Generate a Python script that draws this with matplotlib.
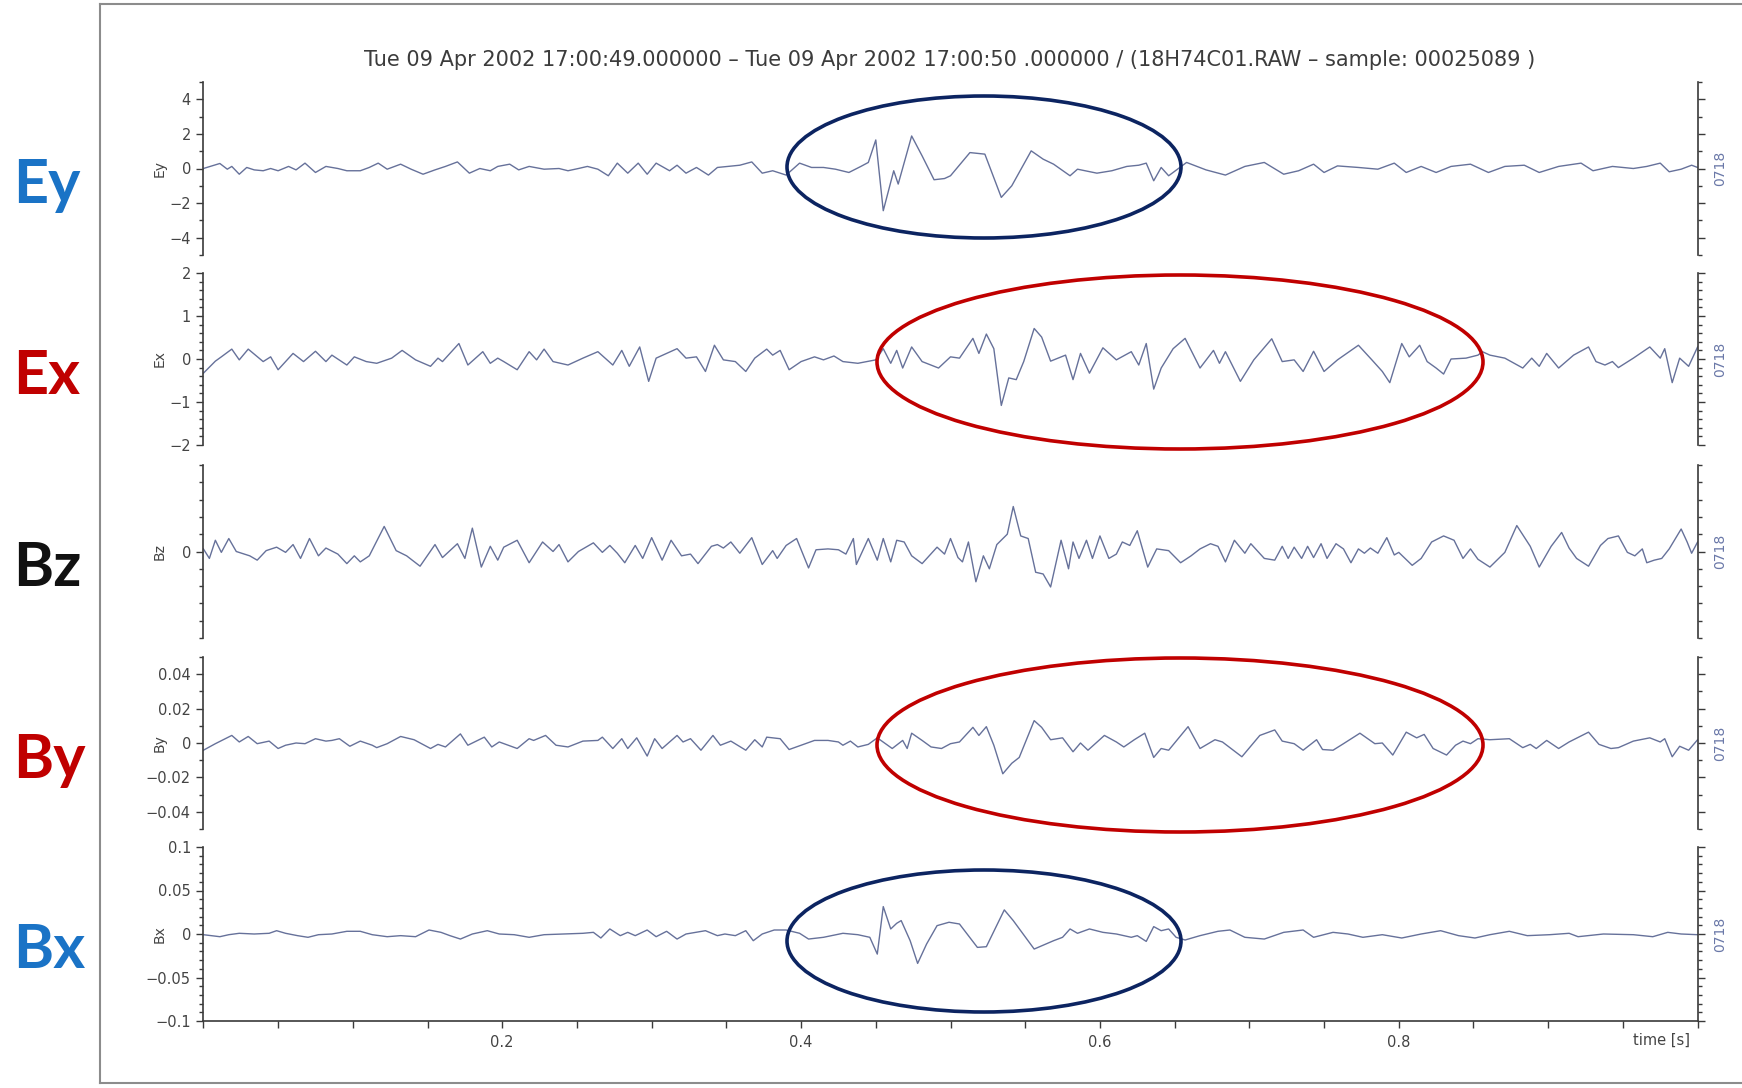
import numpy as np
import matplotlib.pyplot as plt
from matplotlib.patches import Ellipse
from matplotlib.lines import Line2D
from matplotlib.ticker import MultipleLocator, FixedLocator, FuncFormatter

# Turning points of each channel: time in ms, value in channel units
EY_T = [0, 11, 16, 19, 24, 29, 34, 40, 45, 50, 57, 62, 68, 75, 82, 90, 96, 105, 111, 117,
        123, 132, 139, 147, 155, 162, 170, 178, 185, 192, 197, 205, 211, 218, 228, 238, 244, 251, 257, 264,
        271, 277, 284, 291, 297, 303, 312, 317, 323, 330, 338, 344, 351, 359, 367, 374, 381, 390, 399, 407,
        415, 423, 432, 440, 445, 450, 455, 462, 465, 474, 481, 489, 496,
        500, 513, 523, 534, 541, 554, 562, 569, 580, 585, 598, 608, 618, 626, 631, 636, 641, 646, 658, 671,
        684, 697, 710, 723, 733, 743, 750, 759, 773, 786, 797, 805, 815, 825, 835, 848, 860, 871, 884, 894,
        907, 922, 930, 943, 957, 966, 975, 981, 989, 996, 1000]
EY_V = [0.00, 0.29, -0.04, 0.12, -0.33, 0.06, -0.08, -0.13, 0.00, -0.13,
        0.12, -0.08, 0.31, -0.23, 0.12, 0.00, -0.13, -0.13, 0.06, 0.31,
        -0.04, 0.25, -0.04, -0.33, -0.08, 0.12, 0.38, -0.27, 0.00, -0.13,
        0.12, 0.25, -0.08, 0.12, -0.04, 0.00, -0.13, 0.00, 0.12, -0.04,
        -0.42, 0.31, -0.27, 0.31, -0.33, 0.31, -0.13, 0.19, -0.27, 0.06,
        -0.38, 0.06, 0.12, 0.19, 0.38, -0.27, -0.13, -0.38, 0.31, 0.06,
        0.06, -0.04, -0.23, 0.12, 0.35, 1.65, -2.44, -0.13, -0.90, 1.88,
        0.73, -0.65, -0.58,
        -0.42, 0.92, 0.83, -1.67, -1.00, 1.02, 0.54, 0.25, -0.42, -0.04,
        -0.27, -0.13, 0.12, 0.19, 0.31, -0.71, 0.06, -0.42, 0.35, -0.08,
        -0.38, 0.12, 0.35, -0.33, -0.13, 0.25, -0.23, 0.15, 0.06, -0.04,
        0.31, -0.23, 0.12, -0.23, 0.12, 0.25, -0.23, 0.12, 0.19, -0.23,
        0.12, 0.31, -0.13, 0.12, 0.00, 0.12, 0.31, -0.19, -0.04, 0.19, 0.06]

EX_T = [0, 8, 12, 19, 24, 30, 40, 45, 50, 55, 60, 67, 75, 82, 86, 96, 101, 109, 116, 126,
        133, 142, 152, 157, 160, 171, 177, 187, 192, 197, 201, 210, 218, 223, 228, 234, 244, 254, 264, 274,
        280, 285, 292, 298, 303, 317, 323, 330, 336, 342, 348, 356, 363, 369, 377, 381, 386, 392, 400, 409,
        415, 422, 428, 438, 450, 455, 460, 464, 468, 474, 481, 492,
        500, 506, 515, 519, 524, 529, 534, 539, 544, 549, 556, 561, 567, 577, 582, 587, 593, 602, 611, 621,
        626, 631, 636, 641, 649, 657, 667, 676, 680, 684, 694, 703, 715, 722, 730, 736, 743, 750, 759, 773,
        782, 789, 794, 802, 807, 814, 819, 825, 830, 835, 845, 853, 856, 861, 871, 883, 889, 894, 899, 907,
        917, 927, 932, 938, 943, 947, 957, 968, 975, 978, 983, 988, 994, 1000]
EX_V = [-0.33, -0.05, 0.05, 0.23, -0.02, 0.23, -0.06, 0.05, -0.25, -0.06,
        0.13, -0.06, 0.18, -0.06, 0.09, -0.14, 0.05, -0.06, -0.10, 0.02,
        0.20, -0.02, -0.17, 0.02, -0.06, 0.36, -0.14, 0.17, -0.10, 0.02,
        -0.06, -0.25, 0.17, -0.02, 0.23, -0.06, -0.14, 0.02, 0.17, -0.14,
        0.20, -0.17, 0.28, -0.52, 0.02, 0.24, 0.02, 0.05, -0.29, 0.32,
        -0.02, -0.06, -0.29, 0.02, 0.23, 0.09, 0.20, -0.25, -0.06, 0.05,
        -0.02, 0.07, -0.06, -0.10, -0.02, 0.24, -0.10, 0.20, -0.21, 0.28,
        -0.06, -0.21,
        0.05, 0.02, 0.48, 0.13, 0.58, 0.24, -1.08, -0.44, -0.48, -0.06,
        0.71, 0.51, -0.05, 0.09, -0.48, 0.13, -0.33, 0.26, -0.02, 0.17,
        -0.14, 0.36, -0.70, -0.21, 0.24, 0.48, -0.21, 0.20, -0.10, 0.17,
        -0.52, -0.02, 0.47, -0.06, -0.02, -0.29, 0.18, -0.29, -0.02, 0.32,
        -0.02, -0.29, -0.55, 0.36, 0.05, 0.32, -0.06, -0.21, -0.35, 0.00,
        0.02, 0.09, 0.17, 0.09, 0.02, -0.21, 0.02, -0.17, 0.13, -0.21,
        0.09, 0.28, -0.06, -0.14, -0.06, -0.20, 0.02, 0.28, 0.02, 0.24,
        -0.55, 0.02, -0.17, 0.28]

BZ_T = [0, 4, 8, 12, 17, 22, 31, 36, 42, 49, 55, 60, 65, 71, 77, 82, 90, 96, 101, 105,
        111, 121, 129, 136, 145, 155, 160, 170, 175, 180, 186, 192, 197, 201, 210, 218, 227, 234, 238, 244,
        251, 261, 267, 272, 277, 282, 289, 294, 300, 307, 313, 320, 326, 331, 340, 344, 348, 353, 359, 367,
        374, 381, 384, 390, 397, 405, 410, 418, 425, 430, 435, 437, 445, 451, 455, 460, 464, 469, 474, 481,
        491, 496,
        500, 505, 508, 512, 517, 522, 526, 531, 538, 542, 547, 552, 557, 562, 567, 574, 579, 582, 586, 591,
        595, 600, 606, 611, 615, 620, 625, 632, 638, 646, 654, 661, 667, 674, 679, 684, 690, 697, 701, 710,
        717, 722, 726, 730, 735, 739, 743, 748, 752, 758, 763, 768, 773, 777, 781, 786, 792, 797, 800, 809,
        815, 822, 830, 837, 843, 848, 853, 861, 871, 879, 888, 894, 902, 909, 914, 919, 927, 935, 940, 947,
        953, 958, 963, 966, 971, 976, 981, 989, 993, 996, 1000]
BZ_V = [0.03, -0.08, 0.13, -0.01, 0.15, 0.00, -0.05, -0.10, 0.01, 0.05,
        -0.01, 0.08, -0.08, 0.15, -0.05, 0.04, -0.03, -0.14, -0.05, -0.12,
        -0.05, 0.29, 0.01, -0.05, -0.17, 0.08, -0.07, 0.09, -0.08, 0.27,
        -0.18, 0.06, -0.10, 0.05, 0.13, -0.13, 0.11, 0.00, 0.08, -0.12,
        0.00, 0.10, -0.01, 0.07, -0.02, -0.13, 0.07, -0.08, 0.16, -0.10,
        0.13, -0.05, -0.03, -0.14, 0.06, 0.08, 0.04, 0.11, -0.02, 0.16,
        -0.15, 0.01, -0.08, 0.07, 0.15, -0.19, 0.02, 0.03, 0.02, -0.03,
        0.15, -0.15, 0.15, -0.10, 0.15, -0.12, 0.13, 0.11, -0.05, -0.14,
        0.05, -0.03,
        0.15, -0.07, -0.12, 0.11, -0.35, -0.05, -0.20, 0.08, 0.20, 0.52,
        0.18, 0.15, -0.24, -0.26, -0.41, 0.13, -0.20, 0.11, -0.08, 0.13,
        -0.08, 0.18, -0.08, -0.03, 0.11, 0.07, 0.24, -0.18, 0.03, 0.01,
        -0.13, -0.05, 0.03, 0.09, 0.06, -0.12, 0.13, -0.02, 0.09, -0.08,
        -0.10, 0.06, -0.08, 0.05, -0.08, 0.06, -0.07, 0.09, -0.08, 0.09,
        0.03, -0.13, 0.03, -0.02, 0.04, -0.02, 0.16, -0.04, -0.01, -0.16,
        -0.08, 0.11, 0.18, 0.13, -0.08, 0.03, -0.09, -0.18, -0.01, 0.30,
        0.06, -0.18, 0.06, 0.22, 0.04, -0.08, -0.17, 0.07, 0.15, 0.18,
        -0.01, -0.05, 0.03, -0.13, -0.10, -0.08, 0.03, 0.26, 0.11, -0.02, 0.11]

BY_T = [0, 8, 19, 24, 30, 36, 44, 50, 55, 62, 68, 75, 82, 86, 91, 98, 105, 113, 116, 123,
        132, 141, 152, 157, 162, 172, 177, 188, 193, 198, 210, 218, 221, 229, 236, 244, 254, 264, 267, 274,
        280, 284, 290, 297, 302, 307, 317, 321, 326, 333, 341, 346, 353, 363, 369, 374, 377, 386, 392, 400,
        409, 418, 425, 428, 433, 438, 445, 451, 461, 468, 471, 474, 481, 487, 494,
        500, 506, 515, 519, 524, 529, 535, 541, 546, 556, 561, 567, 575, 582, 587, 592, 603, 611, 616, 623,
        630, 636, 641, 646, 659, 667, 677, 682, 695, 707, 717, 722, 730, 736, 745, 749, 756, 763, 774, 784,
        789, 796, 805, 812, 817, 823, 832, 838, 843, 848, 853, 861, 874, 883, 888, 892, 899, 907, 914, 927,
        934, 942, 947, 957, 968, 975, 978, 983, 988, 994, 1000]
BY_V = [-0.0042, -0.0004, 0.0044, 0.0006, 0.0038, -0.0004, 0.0011, -0.0032, -0.0013, 0.0000,
        -0.0004, 0.0025, 0.0011, 0.0015, 0.0025, -0.0019, 0.0011, -0.0013, -0.0027, -0.0004,
        0.0038, 0.0019, -0.0032, -0.0008, -0.0023, 0.0053, -0.0013, 0.0034, -0.0023, 0.0006,
        -0.0032, 0.0025, 0.0015, 0.0044, -0.0013, -0.0023, 0.0011, 0.0015, 0.0034, -0.0032,
        0.0025, -0.0032, 0.0030, -0.0076, 0.0025, -0.0032, 0.0044, 0.0006, 0.0025, -0.0042,
        0.0044, -0.0013, 0.0011, -0.0042, 0.0019, -0.0023, 0.0034, 0.0025, -0.0038, -0.0013,
        0.0015, 0.0015, 0.0006, -0.0013, 0.0011, -0.0023, -0.0008, 0.0030, -0.0032, 0.0015,
        -0.0032, 0.0057, 0.0015, -0.0023, -0.0032,
        -0.0004, 0.0006, 0.0091, 0.0044, 0.0095, -0.0013, -0.0179, -0.0118, -0.0084, 0.0130,
        0.0091, 0.0019, 0.0030, -0.0051, 0.0000, -0.0042, 0.0044, 0.0006, -0.0023, 0.0019,
        0.0057, -0.0084, -0.0032, -0.0042, 0.0095, -0.0032, 0.0019, 0.0006, -0.0080, 0.0044,
        0.0076, 0.0011, -0.0004, -0.0042, 0.0019, -0.0038, -0.0042, -0.0004, 0.0057, -0.0004,
        0.0000, -0.0070, 0.0063, 0.0030, 0.0050, -0.0032, -0.0070, -0.0013, 0.0011, -0.0004,
        0.0025, 0.0019, 0.0025, -0.0027, -0.0008, -0.0032, 0.0015, -0.0032, 0.0006, 0.0063,
        -0.0008, -0.0032, -0.0027, 0.0011, 0.0030, 0.0006, 0.0025, -0.0080, -0.0019, -0.0042, 0.0019]

BX_T = [0, 11, 17, 24, 34, 44, 49, 55, 63, 70, 77, 86, 96, 105, 113, 123, 132, 142, 151, 159,
        165, 172, 180, 190, 198, 208, 218, 228, 241, 254, 261, 266, 272, 279, 284, 289, 297, 303, 310, 317,
        323, 336, 344, 349, 356, 363, 368, 374, 382, 390, 399, 405, 415, 428, 438, 446, 451, 455, 460, 464,
        467, 473, 478, 484, 491, 499,
        506, 518, 524, 536, 542, 556, 569, 575, 580, 585, 593, 602, 611, 621, 625, 631, 636, 641, 646, 651,
        657, 667, 679, 687, 697, 710, 723, 736, 743, 756, 766, 776, 789, 802, 815, 828, 840, 851, 861, 874,
        886, 901, 914, 920, 937, 957, 970, 980, 989, 1000]
BX_V = [-0.0008, -0.0031, -0.0008, 0.0008, 0.0000, 0.0008, 0.0038, 0.0008, -0.0019, -0.0038,
        -0.0008, 0.0000, 0.0031, 0.0031, -0.0008, -0.0031, -0.0019, -0.0031, 0.0046, 0.0019,
        -0.0019, -0.0058, 0.0000, 0.0038, 0.0000, -0.0008, -0.0038, -0.0008, 0.0000, 0.0008,
        0.0019, -0.0046, 0.0058, -0.0019, 0.0019, -0.0019, 0.0046, -0.0031, 0.0031, -0.0058,
        0.0000, 0.0038, -0.0019, 0.0000, -0.0019, 0.0038, -0.0077, 0.0000, 0.0046, 0.0046,
        0.0008, -0.0058, -0.0038, 0.0008, -0.0008, -0.0038, -0.0231, 0.0315, 0.0058, 0.0123,
        0.0154, -0.0077, -0.0338, -0.0115, 0.0096, 0.0135,
        0.0115, -0.0154, -0.0146, 0.0277, 0.0154, -0.0173, -0.0077, -0.0038, 0.0058, 0.0008,
        0.0058, 0.0019, 0.0000, -0.0038, -0.0019, -0.0085, 0.0085, 0.0038, 0.0058, -0.0038,
        -0.0069, -0.0019, 0.0031, 0.0046, -0.0038, -0.0058, 0.0019, 0.0046, -0.0038, 0.0019,
        0.0000, -0.0038, -0.0008, -0.0046, 0.0000, 0.0038, -0.0019, -0.0046, -0.0008, 0.0031,
        -0.0019, -0.0008, 0.0008, -0.0031, 0.0000, -0.0008, -0.0031, 0.0019, 0.0000, -0.0008]

CHANNELS = ['Ey', 'Ex', 'Bz', 'By', 'Bx']
SERIES = {'Ey': (EY_T, EY_V), 'Ex': (EX_T, EX_V), 'Bz': (BZ_T, BZ_V),
          'By': (BY_T, BY_V), 'Bx': (BX_T, BX_V)}
TAG_COLORS = {'Ey': '#1a73c6', 'Ex': '#c00000', 'Bz': '#111111', 'By': '#c00000', 'Bx': '#1a73c6'}
TITLE = ('Tue 09 Apr 2002 17:00:49.000000 \u2013 Tue 09 Apr 2002 17:00:50 .000000 / '
         '(18H74C01.RAW \u2013 sample: 00025089 )')

W, H = 1742, 1088
fig = plt.figure(figsize=(W / 100, H / 100), dpi=100)
fig.patch.set_facecolor('white')

# panel layout in pixels: top, bottom edge of each axes
rows = {'Ey': (82, 255), 'Ex': (273, 445), 'Bz': (465, 638), 'By': (657, 829), 'Bx': (847, 1021)}
ax_left, ax_right = 203.4, 1697.6

# y-axis setup: limits, labelled ticks, minor step
yconf = {
    'Ey': ((-5, 5), [-4, -2, 0, 2, 4], 1.0),
    'Ex': ((-2, 2), [-2, -1, 0, 1, 2], 0.2),
    'Bz': ((-1, 1), [0], 0.2),
    'By': ((-0.05, 0.05), [-0.04, -0.02, 0, 0.02, 0.04], 0.01),
    'Bx': ((-0.1, 0.1), [-0.1, -0.05, 0, 0.05, 0.1], 0.01),
}


def tick_fmt(v, pos):
    if abs(v) < 1e-12:
        return '0'
    return f'{v:g}'.replace('-', '\u2212')


trace_color = '#66719a'
axis_color = '#3a3a3a'
text_color = '#444444'

axes = {}
for name in CHANNELS:
    top, bot = rows[name]
    ax = fig.add_axes([ax_left / W, 1 - bot / H, (ax_right - ax_left) / W, (bot - top) / H])
    axes[name] = ax
    t, v = SERIES[name]
    ax.plot(np.array(t) / 1000.0, v, color=trace_color, lw=1.0)
    ax.set_xlim(0, 1)
    lim, majors, minor = yconf[name]
    ax.set_ylim(*lim)
    ax.yaxis.set_major_locator(FixedLocator(majors))
    ax.yaxis.set_minor_locator(MultipleLocator(minor))
    ax.yaxis.set_major_formatter(FuncFormatter(tick_fmt))
    for s in ['top', 'bottom']:
        ax.spines[s].set_visible(False)
    for s in ['left', 'right']:
        ax.spines[s].set_color(axis_color)
        ax.spines[s].set_linewidth(1.2)
    ax.tick_params(axis='y', which='both', left=True, right=True, direction='out',
                   color=axis_color, width=1.0, labelsize=10.5, labelcolor=text_color, pad=4)
    ax.tick_params(axis='y', which='major', length=5)
    ax.tick_params(axis='y', which='minor', length=3)
    ax.tick_params(axis='x', which='both', bottom=False, labelbottom=False)
    ax.patch.set_alpha(0)

    # channel name beside the tick labels, station code on the right
    ax.text(-0.029, 0, name, transform=ax.get_yaxis_transform(), rotation=90,
            ha='center', va='center', fontsize=10, color=text_color)
    ax.text(1.015, 0, '0718', transform=ax.get_yaxis_transform(), rotation=90,
            ha='center', va='center', fontsize=10, color='#6a78a8')

# time axis on the bottom panel only
axb = axes['Bx']
axb.spines['bottom'].set_visible(True)
axb.spines['bottom'].set_color(axis_color)
axb.spines['bottom'].set_linewidth(1.2)
axb.xaxis.set_major_locator(MultipleLocator(0.05))
axb.xaxis.set_major_formatter(FuncFormatter(
    lambda v, p: f'{v:.1f}' if round(v, 2) in (0.2, 0.4, 0.6, 0.8) else ''))
axb.tick_params(axis='x', which='major', bottom=True, labelbottom=True, direction='out',
                length=5, width=1.0, color=axis_color, labelsize=10.5, labelcolor=text_color, pad=5)

fig.text(1661 / W, 1 - 1040 / H, 'time [s]', ha='center', va='center', fontsize=10.5, color=text_color)
fig.text(950 / W, 1 - 60 / H, TITLE, ha='center', va='center', fontsize=15, color='#3c3c3c')

# big coloured channel tags on the left margin
tag_base = {'Ey': 203, 'Ex': 394, 'Bz': 586, 'By': 778, 'Bx': 968}
for name in CHANNELS:
    fig.text(13 / W, 1 - tag_base[name] / H, name, ha='left', va='baseline',
             fontsize=44, fontweight='bold', family=['Lato', 'DejaVu Sans'], color=TAG_COLORS[name])

# highlight ellipses (centre x, centre y, width, height in pixels)
ellipses = [((984, 167, 394, 142), '#0c2461'),
            ((1180, 362, 606, 174), '#c00000'),
            ((1180, 745, 606, 174), '#c00000'),
            ((984, 941, 394, 142), '#0c2461')]
for (cx, cy, ew, eh), col in ellipses:
    fig.add_artist(Ellipse((cx / W, 1 - cy / H), ew / W, eh / H, transform=fig.transFigure,
                           fill=False, ec=col, lw=2.6, zorder=5))

# outer frame: left, top and bottom edges
fx0, fy0, fy1 = 100 / W, 1 - 1083 / H, 1 - 4 / H
frame = dict(transform=fig.transFigure, color='#8c8c8c', lw=1.5)
fig.add_artist(Line2D([fx0, fx0], [fy0, fy1], **frame))
fig.add_artist(Line2D([fx0, 1.0], [fy1, fy1], **frame))
fig.add_artist(Line2D([fx0, 1.0], [fy0, fy0], **frame))

fig.savefig('out.png', dpi=100)
